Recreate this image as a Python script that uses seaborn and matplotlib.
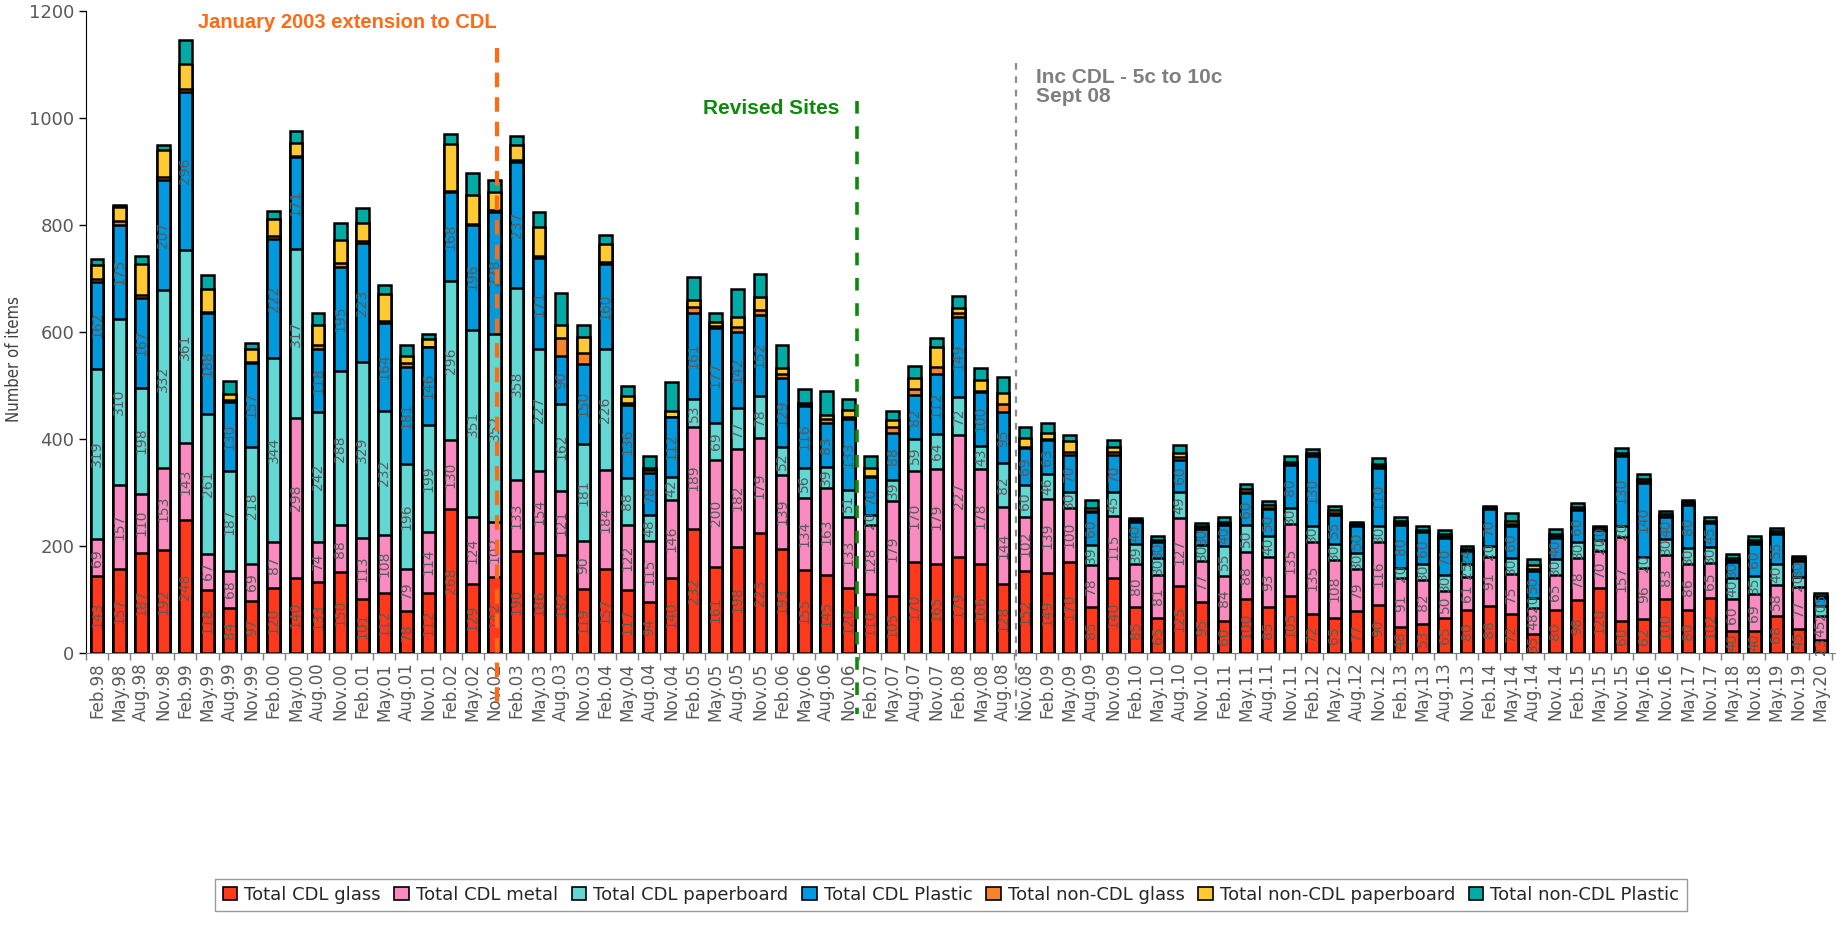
import numpy as np
import pandas as pd
import matplotlib
matplotlib.use("Agg")
import matplotlib.pyplot as plt
import matplotlib.patches as mpatches
import seaborn as sns

# quarter labels (some quarters missing in the survey)
quarters = ["Feb.98", "May.98", "Aug.98", "Nov.98", "Feb.99", "May.99", "Aug.99", "Nov.99",
            "Feb.00", "May.00", "Aug.00", "Nov.00", "Feb.01", "May.01", "Aug.01", "Nov.01",
            "Feb.02", "May.02", "Nov.02", "Feb.03", "May.03", "Aug.03", "Nov.03",
            "Feb.04", "May.04", "Aug.04", "Nov.04", "Feb.05", "May.05", "Aug.05", "Nov.05",
            "Feb.06", "May.06", "Aug.06", "Nov.06", "Feb.07", "May.07", "Aug.07", "Nov.07",
            "Feb.08", "May.08", "Aug.08", "Nov.08", "Feb.09", "May.09", "Aug.09", "Nov.09",
            "Feb.10", "May.10", "Aug.10", "Nov.10", "Feb.11", "May.11", "Aug.11", "Nov.11",
            "Feb.12", "May.12", "Aug.12", "Nov.12", "Feb.13", "May.13", "Aug.13", "Nov.13",
            "Feb.14", "May.14", "Aug.14", "Nov.14", "Feb.15", "May.15", "Nov.15",
            "May.16", "Nov.16", "May.17", "Nov.17", "May.18", "Nov.18", "May.19", "Nov.19",
            "May.20"]

cdl_glass = [143, 157, 187, 192, 248, 118, 84, 97, 120, 140, 133, 150, 101, 112, 78, 112,
             268, 129, 142, 190, 186, 182, 119, 157, 117, 94, 140, 232, 161, 198, 223,
             193, 155, 145, 120, 110, 105, 170, 165, 179, 166, 128, 152, 149, 170, 85, 140,
             85, 65, 125, 95, 60, 100, 85, 105, 72, 65, 77, 90, 48, 53, 65, 80,
             88, 72, 35, 80, 98, 120, 60, 62, 100, 80, 102, 40, 40, 68, 45, 23]
cdl_metal = [69, 157, 110, 153, 143, 67, 68, 69, 87, 298, 74, 88, 113, 108, 79, 114,
             130, 124, 102, 133, 154, 121, 90, 184, 122, 115, 146, 189, 200, 182, 179,
             139, 134, 163, 133, 128, 179, 170, 179, 227, 178, 144, 102, 139, 100, 78, 115,
             80, 81, 127, 77, 84, 88, 93, 135, 135, 108, 79, 116, 91, 82, 50, 61,
             91, 75, 48, 65, 78, 70, 157, 96, 83, 86, 65, 60, 69, 58, 77, 45]
cdl_paper = [319, 310, 198, 332, 361, 261, 187, 218, 344, 317, 242, 288, 329, 232, 196, 199,
             296, 351, 352, 358, 227, 162, 181, 226, 88, 48, 42, 53, 69, 77, 78,
             52, 56, 39, 51, 20, 39, 59, 64, 72, 43, 82, 60, 46, 30, 39, 45,
             39, 30, 49, 30, 55, 50, 40, 30, 30, 30, 30, 30, 20, 30, 30, 25,
             20, 30, 20, 30, 30, 20, 20, 20, 30, 30, 30, 40, 35, 40, 20, 20]
cdl_plastic = [162, 175, 167, 207, 296, 188, 130, 157, 222, 171, 118, 195, 223, 164, 181, 146,
               168, 196, 228, 237, 171, 90, 150, 160, 136, 78, 112, 161, 177, 142, 152,
               129, 116, 83, 133, 70, 88, 82, 112, 149, 100, 95, 69, 63, 70, 60, 70,
               40, 30, 60, 30, 40, 60, 50, 80, 130, 55, 50, 110, 80, 60, 70, 24,
               70, 60, 50, 40, 60, 20, 130, 140, 40, 80, 45, 30, 60, 55, 30, 15]
noncdl_glass = [5, 8, 7, 5, 6, 2, 3, 2, 5, 2, 8, 7, 3, 4, 8, 1,
                1, 2, 4, 3, 3, 33, 20, 3, 3, 6, 1, 11, 4, 10, 8,
                8, 4, 7, 4, 3, 10, 12, 14, 8, 3, 15, 2, 3, 5, 3, 5,
                2, 2, 5, 2, 3, 3, 3, 3, 3, 3, 2, 3, 3, 2, 3, 2,
                1, 3, 3, 3, 3, 2, 3, 3, 3, 2, 2, 3, 3, 3, 2, 1]
noncdl_paper = [27, 26, 57, 50, 46, 44, 11, 24, 32, 25, 38, 44, 35, 51, 13, 15,
                88, 54, 33, 27, 55, 25, 30, 33, 13, 4, 10, 13, 8, 18, 25,
                12, 2, 8, 13, 15, 13, 20, 38, 10, 20, 22, 16, 10, 20, 5, 10,
                2, 3, 8, 3, 3, 4, 5, 4, 3, 5, 2, 4, 4, 3, 4, 2,
                1, 6, 7, 4, 4, 2, 4, 3, 4, 3, 3, 4, 4, 3, 2, 2]
noncdl_plastic = [10, 4, 15, 10, 45, 26, 25, 12, 15, 22, 22, 32, 28, 17, 20, 8,
                  19, 40, 22, 18, 27, 60, 22, 17, 20, 23, 55, 43, 16, 53, 43,
                  42, 25, 45, 20, 22, 17, 22, 17, 22, 23, 29, 20, 20, 12, 15, 12,
                  4, 7, 14, 6, 8, 10, 8, 10, 7, 9, 4, 11, 8, 6, 7, 5,
                  4, 15, 12, 10, 7, 3, 8, 10, 5, 5, 6, 7, 7, 6, 4, 5]

series_names = ["Total CDL glass", "Total CDL metal", "Total CDL paperboard", "Total CDL Plastic",
                "Total non-CDL glass", "Total non-CDL paperboard", "Total non-CDL Plastic"]
series_colors = ["#FF3A1C", "#F98BC0", "#63D7D3", "#0099DD", "#F5842A", "#FFC932", "#00ABA6"]

df = pd.DataFrame({
    "quarter": quarters,
    series_names[0]: cdl_glass,
    series_names[1]: cdl_metal,
    series_names[2]: cdl_paper,
    series_names[3]: cdl_plastic,
    series_names[4]: noncdl_glass,
    series_names[5]: noncdl_paper,
    series_names[6]: noncdl_plastic,
})

cum = df[series_names].cumsum(axis=1)
n = len(quarters)

sns.set_style("white")
plt.rcParams["font.family"] = ["DejaVu Sans"]

H = 1040.0
fig = plt.figure(figsize=(18.36, 9.26), dpi=100)
ax = fig.add_axes([86 / 1836, 1 - 733 / H, 1750 / 1836, 721 / H])

# stacked bars: draw cumulative totals from the top series down
for i in range(len(series_names) - 1, -1, -1):
    sns.barplot(x=df["quarter"], y=cum[series_names[i]], color=series_colors[i],
                saturation=1, width=0.58, edgecolor="black", linewidth=1.8,
                errorbar=None, ax=ax)

# data labels on the CDL segments
for i in range(4):
    vals = df[series_names[i]].values
    base = cum[series_names[i]].values - vals
    for j, v in enumerate(vals):
        ax.text(j, base[j] + v / 2, str(v), rotation=90, ha="center", va="center",
                fontsize=10, color="#595959")

ax.set_xlim(-0.48, n - 0.3)
ax.set_ylim(0, 1200)
ax.set_yticks(range(0, 1201, 200))
ax.set_xlabel("")
ax.set_ylabel("Number of items", fontsize=12, color="#404040", fontstretch="condensed")
ax.yaxis.set_label_coords(-0.036, 0.457)
ax.set_xticks(np.arange(-0.5, n, 1), minor=True)
ax.tick_params(axis="x", which="major", rotation=90, labelsize=12, labelcolor="#595959",
               length=0, pad=7)
ax.tick_params(axis="x", which="minor", length=5, width=1, color="#808080", bottom=True)
ax.tick_params(axis="y", labelsize=13, labelcolor="#595959", length=5, width=1,
               color="#000000", left=True)
for s in ["top", "right"]:
    ax.spines[s].set_visible(False)
ax.spines["left"].set_color("black")
ax.spines["bottom"].set_color("#808080")

# event markers
ax.plot([18.1, 18.1], [1131, -105], color="#FF6A13", lw=3, clip_on=False,
        linestyle=(0, (3.5, 2.4)), zorder=5)
ax.text(18.1, 1178, "January 2003 extension to CDL", color="#FF6A13", fontsize=14.5,
        fontweight="bold", ha="right", va="center", family=["Liberation Sans", "DejaVu Sans"])

ax.plot([34.4, 34.4], [1031, -115], color="#0B8A0B", lw=2.6, clip_on=False,
        linestyle=(0, (3.5, 3.5)), zorder=5)
ax.text(33.6, 1018, "Revised Sites", color="#0B8A0B", fontsize=15,
        fontweight="bold", ha="right", va="center", family=["Liberation Sans", "DejaVu Sans"])

ax.plot([41.6, 41.6], [1103, -123], color="#8C8C8C", lw=1.6, clip_on=False,
        linestyle=(0, (3, 3)), zorder=5)
ax.text(42.5, 1092, "Inc CDL - 5c to 10c\nSept 08", color="#7F7F7F", fontsize=15,
        fontweight="bold", ha="left", va="top", linespacing=1.0,
        family=["Liberation Sans", "DejaVu Sans"])

handles = [mpatches.Patch(facecolor=c, edgecolor="black", linewidth=1.2, label=n_)
           for n_, c in zip(series_names, series_colors)]
fig.legend(handles=handles, loc="center", bbox_to_anchor=(0.518, 1 - 1005 / H), ncol=7,
           fontsize=13, frameon=True, fancybox=False, edgecolor="#808080",
           handlelength=0.8, handleheight=0.8, handletextpad=0.4, columnspacing=0.75,
           borderpad=0.4)

fig.savefig("out.png", dpi=100)
